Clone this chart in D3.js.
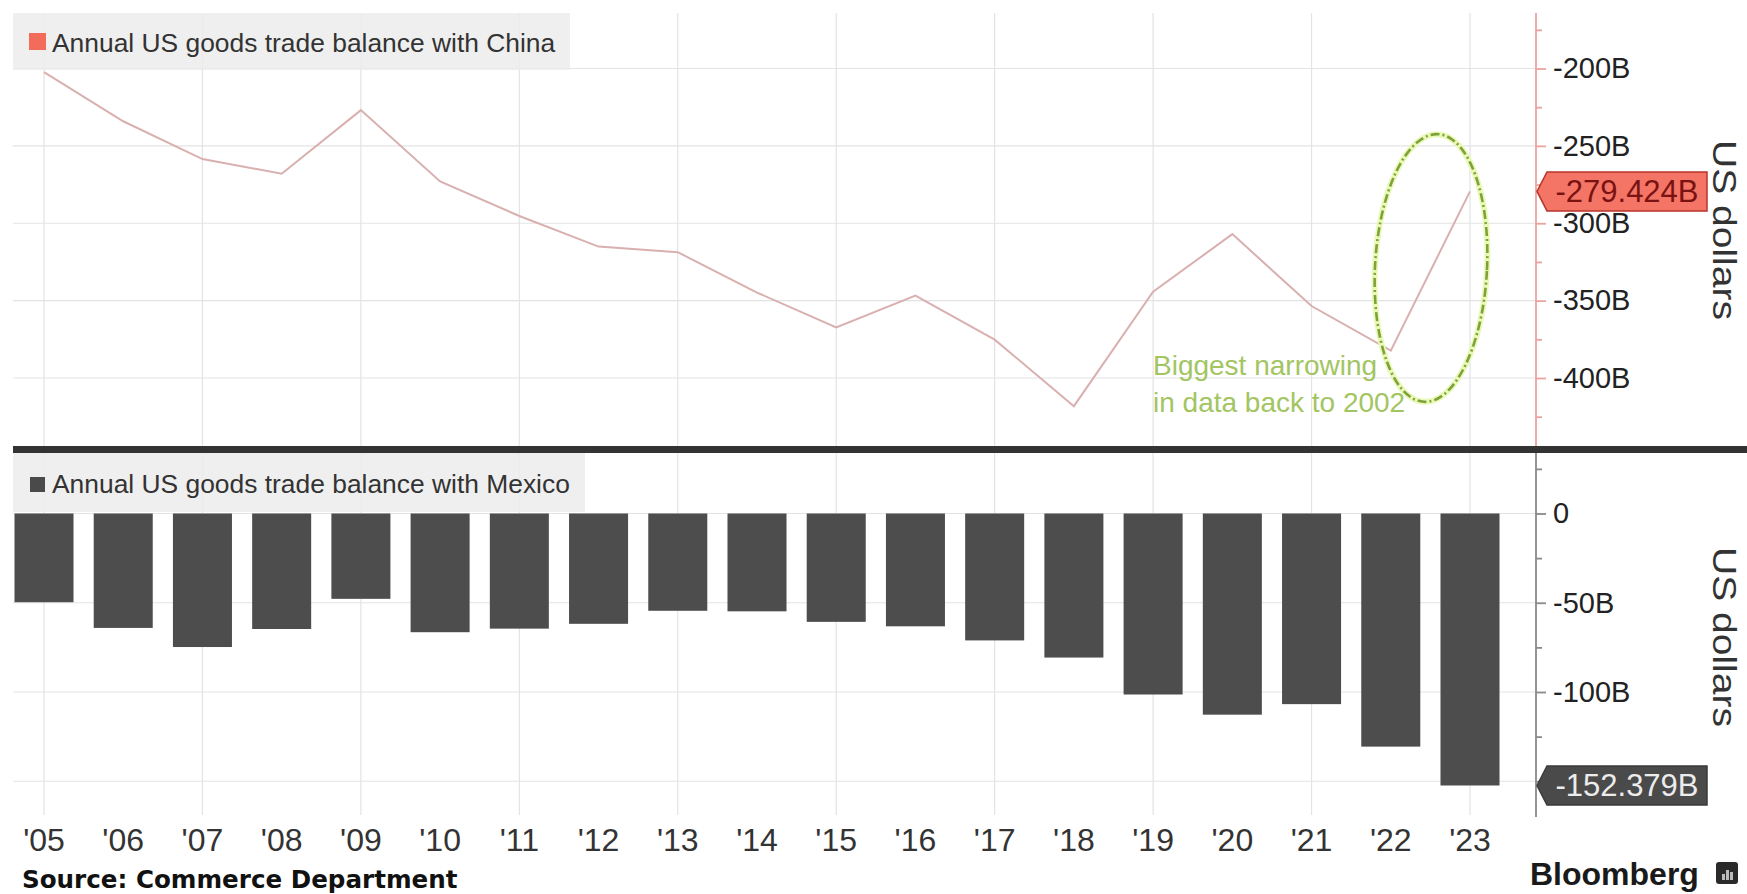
<!DOCTYPE html>
<html><head><meta charset="utf-8">
<script src="https://cdn.jsdelivr.net/npm/d3@7"></script>
<style>
body{margin:0;background:#fff;}
svg{display:block;font-family:"Liberation Sans",Arial,sans-serif;}
</style>
</head><body>
<svg id="c" width="1747" height="894"></svg>
<script>
// ---------- data ----------
const years = ["'05","'06","'07","'08","'09","'10","'11","'12","'13","'14","'15","'16","'17","'18","'19","'20","'21","'22","'23"];
const chinaBalance = [-202.3,-234.1,-258.5,-268.0,-226.9,-273.0,-295.3,-315.1,-318.7,-344.8,-367.3,-346.8,-375.2,-418.2,-344.3,-307.0,-353.5,-382.3,-279.424];
const mexicoBalance = [-49.7,-64.1,-74.8,-64.7,-47.8,-66.5,-64.5,-61.8,-54.5,-54.8,-60.7,-63.2,-71.1,-80.7,-101.4,-112.7,-106.8,-130.6,-152.379];
const chinaTicks = [-200,-250,-300,-350,-400];
const chinaMinorTicks = [-175,-225,-275,-325,-375,-425];
const mexicoGrid = [0,-50,-100,-150];
const mexicoTicks = [0,-50,-100];
const mexicoMinorTicks = [25,-25,-75,-125,-150];
const gridYears = years.filter((d,i)=>i%2===0);
const chinaLabel = "Annual US goods trade balance with China";
const mexicoLabel = "Annual US goods trade balance with Mexico";
const annotation = ["Biggest narrowing","in data back to 2002"];

// ---------- layout ----------
const svg = d3.select("#c");
const L = 13, AX = 1536;
const topP = {t:13, b:446};
const botP = {t:453, b:815};

const x = d3.scalePoint().domain(years).range([44,1470]);
const barW = x.step()*0.745;
const yTop = d3.scaleLinear().domain([-200,-400]).range([68.5,378]);
const yBot = d3.scaleLinear().domain([0,-100]).range([513.5,692]);

const gridCol = "#e3e3e3";

// vertical grid lines
const g = svg.append("g");
[[topP.t,topP.b],[botP.t,botP.b]].forEach(([a,b])=>{
  g.selectAll(null).data(gridYears).join("line")
    .attr("x1",d=>x(d)).attr("x2",d=>x(d)).attr("y1",a).attr("y2",b)
    .attr("stroke",gridCol).attr("stroke-width",1.2);
});
// horizontal grid
g.selectAll(null).data(chinaTicks).join("line")
  .attr("x1",L).attr("x2",AX).attr("y1",d=>yTop(d)).attr("y2",d=>yTop(d))
  .attr("stroke",gridCol).attr("stroke-width",1.2);
g.selectAll(null).data(mexicoGrid).join("line")
  .attr("x1",L).attr("x2",AX).attr("y1",d=>yBot(d)).attr("y2",d=>yBot(d))
  .attr("stroke",gridCol).attr("stroke-width",1.2);

// legend boxes
svg.append("rect").attr("x",L).attr("y",13).attr("width",557).attr("height",57)
  .attr("fill","#ececec").attr("opacity",0.85);
svg.append("rect").attr("x",L).attr("y",453).attr("width",572).attr("height",59)
  .attr("fill","#ececec").attr("opacity",0.85);
svg.append("rect").attr("x",29).attr("y",33).attr("width",17).attr("height",17).attr("fill","#f26b5b");
svg.append("rect").attr("x",30).attr("y",477).attr("width",15).attr("height",15).attr("fill","#4a4a4a");
svg.append("text").attr("x",52).attr("y",52).attr("font-size",26.4).attr("fill","#333").text(chinaLabel);
svg.append("text").attr("x",52).attr("y",493).attr("font-size",26.4).attr("fill","#333").text(mexicoLabel);

// China line
svg.append("path").datum(chinaBalance)
  .attr("d", d3.line().x((d,i)=>x(years[i])).y(d=>yTop(d)))
  .attr("fill","none").attr("stroke","#d9b0b0").attr("stroke-width",2);

// Mexico bars
svg.append("g").selectAll("rect").data(mexicoBalance).join("rect")
  .attr("x",(d,i)=>x(years[i])-barW/2).attr("width",barW)
  .attr("y",yBot(0)).attr("height",d=>yBot(d)-yBot(0))
  .attr("fill","#4d4d4d");

// axes
function drawAxis(scale, major, minor, a, b, col, fmt){
  const gg = svg.append("g");
  gg.append("line").attr("x1",AX).attr("x2",AX).attr("y1",a).attr("y2",b)
    .attr("stroke",col).attr("stroke-width",1.8);
  const ax = d3.axisRight(scale).tickValues(major).tickSize(10).tickPadding(7).tickFormat(fmt);
  const ag = gg.append("g").attr("transform",`translate(${AX},0)`).call(ax);
  ag.select(".domain").remove();
  ag.selectAll(".tick line").attr("stroke",col).attr("stroke-width",1.8);
  ag.selectAll(".tick text").attr("font-size",29).attr("fill","#222")
    .attr("font-family","Liberation Sans, Arial, sans-serif");
  const mg = gg.append("g").attr("transform",`translate(${AX},0)`)
    .call(d3.axisRight(scale).tickValues(minor).tickSize(6).tickFormat(""));
  mg.select(".domain").remove();
  mg.selectAll(".tick line").attr("stroke",col).attr("stroke-width",1.8);
}
drawAxis(yTop, chinaTicks, chinaMinorTicks, topP.t, topP.b, "#eba39d", d=>`${d}B`);
drawAxis(yBot, mexicoTicks, mexicoMinorTicks, botP.t, 817, "#8a8a8a", d=>d===0?"0":`${d}B`);

// x labels
svg.append("g").selectAll("text").data(years).join("text")
  .attr("x",d=>x(d)).attr("y",851).attr("text-anchor","middle")
  .attr("font-size",32).attr("fill","#333").text(d=>d);

// value badges
function badge(yv, fill, stroke, tcol, label){
  const h = 19.5;
  const pts = [[AX+1,yv],[AX+11,yv-h],[1707,yv-h],[1707,yv+h],[AX+11,yv+h]];
  svg.append("polygon").attr("points",pts.map(p=>p.join(",")).join(" "))
    .attr("fill",fill).attr("stroke",stroke).attr("stroke-width",1.5);
  svg.append("text").attr("x",1627).attr("y",yv).attr("dy","0.35em")
    .attr("text-anchor","middle").attr("font-size",31).attr("fill",tcol).text(label);
}
const lastC = chinaBalance[chinaBalance.length-1];
const lastM = mexicoBalance[mexicoBalance.length-1];
badge(yTop(lastC), "#f47565", "#b8352a", "#7a1212", `${lastC.toFixed(3)}B`);
badge(yBot(lastM), "#4a4a4a", "#3a3a3a", "#ececec", `${lastM.toFixed(3)}B`);

// annotation
const ann = svg.append("g").attr("font-size",28).attr("fill","#a2c562");
ann.append("text").attr("x",1153).attr("y",375).text(annotation[0]);
ann.append("text").attr("x",1153).attr("y",412).text(annotation[1]);
const ell = svg.append("g").attr("transform","translate(1431,268) rotate(3)");
ell.append("ellipse").attr("rx",56).attr("ry",134).attr("fill","none")
  .attr("stroke","#eaf8b8").attr("stroke-width",6);
ell.append("ellipse").attr("rx",56).attr("ry",134).attr("fill","none")
  .attr("stroke","#7da23a").attr("stroke-width",2.6).attr("stroke-dasharray","9 3 2 3");

// divider
svg.append("rect").attr("x",L).attr("y",446).attr("width",1747-L).attr("height",7).attr("fill","#333");

// axis titles
["230","637"].forEach(cy=>{
  svg.append("text").attr("transform",`translate(1713,${cy}) rotate(90)`)
    .attr("text-anchor","middle").attr("font-size",33).attr("fill","#333")
    .attr("textLength",180).attr("lengthAdjust","spacingAndGlyphs").text("US dollars");
});

// footer
svg.append("text").attr("x",22).attr("y",888).attr("font-family","DejaVu Sans, sans-serif")
  .attr("font-weight","bold").attr("font-size",24.6).attr("fill","#111").text("Source: Commerce Department");
svg.append("text").attr("x",1530).attr("y",885).attr("font-weight","bold")
  .attr("font-size",32).attr("fill","#1a1a1a").text("Bloomberg");
const logo = svg.append("g").attr("transform","translate(1716,862)");
logo.append("rect").attr("width",22).attr("height",22).attr("rx",3).attr("fill","#2a2a2a");
[[6,12,3,6],[10,8,3,10],[14,10,3,8]].forEach(([a,b,w,h])=>logo.append("rect")
  .attr("x",a).attr("y",b).attr("width",w).attr("height",h).attr("fill","#bbb"));
</script>
</body></html>
